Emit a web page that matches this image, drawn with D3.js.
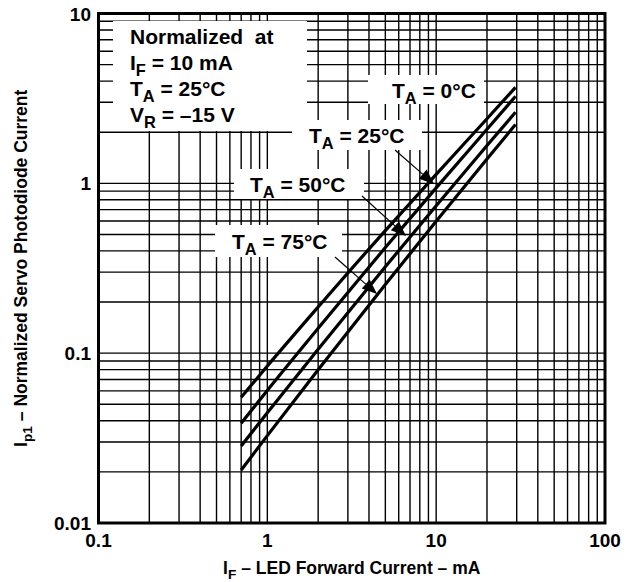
<!DOCTYPE html>
<html><head><meta charset="utf-8">
<script src="https://cdn.jsdelivr.net/npm/d3@7"></script>
<style>
body{margin:0;background:#fff}
text{font-family:"Liberation Sans",Arial,Helvetica,sans-serif;font-weight:bold;fill:#000}
</style>
</head><body>
<svg id="chart" width="642" height="582"></svg>
<script>
// ---- data ----
const currentMA = [0.7, 1, 2, 5, 10, 20, 29.5];          // I_F, mA
const ta0C  = [0.055, 0.084, 0.187, 0.527, 1.13, 2.40, 3.67];
const ta25C = [0.0387, 0.0603, 0.140, 0.419, 0.94, 2.08, 3.25];
const ta50C = [0.0284, 0.0446, 0.1054, 0.323, 0.738, 1.67, 2.62];
const ta75C = [0.0205, 0.0327, 0.0798, 0.254, 0.598, 1.39, 2.22];
const xTickValues = [0.1, 1, 10, 100];
const xTickLabels = ["0.1", "1", "10", "100"];
const yTickValues = [0.01, 0.1, 1, 10];
const yTickLabels = ["0.01", "0.1", "1", "10"];

// ---- layout ----
const L = 98.5, R = 605, T = 13.5, B = 523;
const svg = d3.select("#chart");
const x = d3.scaleLog().domain([0.1, 100]).range([L, R]);
const y = d3.scaleLog().domain([0.01, 10]).range([B, T]);

// grid
const g = svg.append("g");
g.selectAll("line.vx").data(x.ticks()).join("line")
  .attr("x1", d => x(d)).attr("x2", d => x(d)).attr("y1", T).attr("y2", B)
  .attr("stroke", "#000").attr("stroke-width", 1.4);
g.selectAll("line.hy").data(y.ticks()).join("line")
  .attr("y1", d => y(d)).attr("y2", d => y(d)).attr("x1", L).attr("x2", R)
  .attr("stroke", "#000").attr("stroke-width", 1.4);

// white label boxes (interrupting grid)
const boxes = [
  [113, 21, 194, 110],   // normalized note
  [368, 75, 116, 29],    // 0°C
  [292, 120, 130, 30],   // 25°C
  [234, 169, 130, 30],   // 50°C
  [215, 225, 127, 32]    // 75°C
];
svg.append("g").selectAll("rect").data(boxes).join("rect")
  .attr("x", d => d[0]).attr("y", d => d[1]).attr("width", d => d[2]).attr("height", d => d[3])
  .attr("fill", "#fff");

// curves
const allSeries = [ta0C, ta25C, ta50C, ta75C];
const line = d3.line().x(d => x(d[0])).y(d => y(d[1])).curve(d3.curveMonotoneX);
svg.append("g").selectAll("path").data(allSeries).join("path")
  .attr("d", s => line(currentMA.map((c, i) => [c, s[i]])))
  .attr("fill", "none").attr("stroke", "#000").attr("stroke-width", 3.2)
  .attr("stroke-linecap", "butt");

// border
svg.append("rect").attr("x", L).attr("y", T).attr("width", R - L).attr("height", B - T)
  .attr("fill", "none").attr("stroke", "#000").attr("stroke-width", 3);

// arrows
const arrows = [
  [395, 150, 434, 184],
  [362, 196, 406, 236],
  [335, 257, 377, 294]
];
const ag = svg.append("g");
arrows.forEach(a => {
  const [x1, y1, x2, y2] = a;
  const ang = Math.atan2(y2 - y1, x2 - x1);
  const len = 15, w = 6;
  const bx = x2 - len * Math.cos(ang), by = y2 - len * Math.sin(ang);
  ag.append("line").attr("x1", x1).attr("y1", y1).attr("x2", bx).attr("y2", by)
    .attr("stroke", "#000").attr("stroke-width", 1.2);
  const px = -Math.sin(ang) * w, py = Math.cos(ang) * w;
  ag.append("path").attr("d", `M${x2},${y2}L${bx + px},${by + py}L${bx - px},${by - py}Z`).attr("fill", "#000");
});

// helper for text with subscript
function subText(sel, xPos, yPos, main, sub, rest, size, anchor) {
  const t = sel.append("text").attr("x", xPos).attr("y", yPos).attr("font-size", size)
    .attr("text-anchor", anchor || "start");
  t.append("tspan").text(main);
  t.append("tspan").attr("dy", size * 0.3).attr("font-size", size * 0.78).text(sub);
  t.append("tspan").attr("dy", -size * 0.3).text(rest);
  return t;
}

// note
const note = svg.append("g");
note.append("text").attr("x", 130).attr("y", 44).attr("font-size", 21).attr("xml:space", "preserve").text("Normalized  at");
subText(note, 130, 70, "I", "F", " = 10 mA", 21);
subText(note, 130, 96, "T", "A", " = 25°C", 21);
subText(note, 130, 122, "V", "R", " = –15 V", 21);

// temperature labels
const lab = svg.append("g");
subText(lab, 392, 98, "T", "A", " = 0°C", 21);
subText(lab, 309, 143, "T", "A", " = 25°C", 21);
subText(lab, 250, 192, "T", "A", " = 50°C", 21);
subText(lab, 232, 249, "T", "A", " = 75°C", 21);

// tick labels
svg.append("g").selectAll("text").data(xTickValues).join("text")
  .attr("x", d => x(d)).attr("y", 547).attr("text-anchor", "middle").attr("font-size", 19)
  .text((d, i) => xTickLabels[i]);
svg.append("g").selectAll("text").data(yTickValues).join("text")
  .attr("x", 91).attr("y", d => y(d) + 7).attr("text-anchor", "end").attr("font-size", 19)
  .text((d, i) => yTickLabels[i]);

// axis titles
subText(svg, (L + R) / 2, 574, "I", "F", " – LED Forward Current – mA", 17.5, "middle");
const yt = svg.append("g").attr("transform", `translate(27,${(T + B) / 2}) rotate(-90)`);
subText(yt, 0, 0, "I", "p1", " – Normalized Servo Photodiode Current", 17.5, "middle");
</script>
</body></html>
